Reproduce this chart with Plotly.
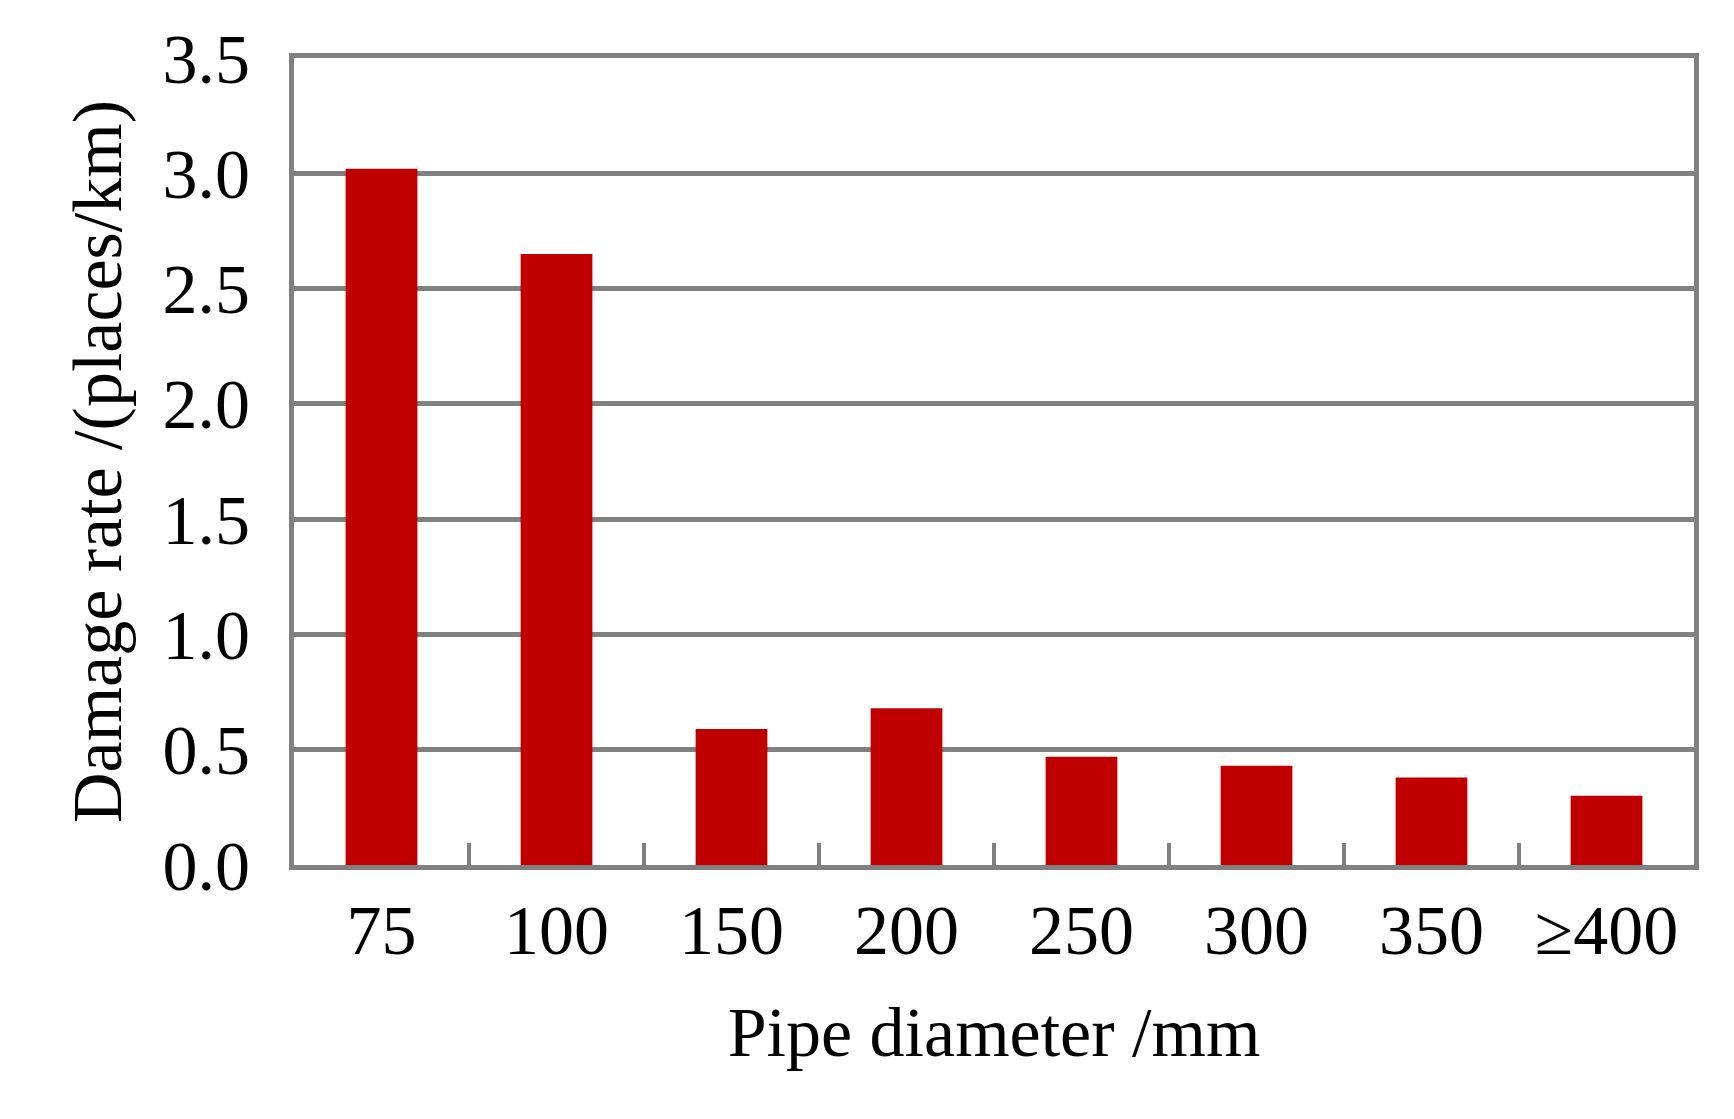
import plotly.graph_objects as go

categories = ["75", "100", "150", "200", "250", "300", "350", "≥400"]
values = [3.02, 2.65, 0.59, 0.68, 0.47, 0.43, 0.38, 0.30]

fig = go.Figure(go.Bar(x=categories, y=values, marker_color="#C00000", marker_line_width=0))
font = dict(family="Liberation Serif, Times New Roman, serif", color="black")
fig.update_layout(
    width=1734, height=1119,
    margin=dict(l=286, r=48, t=44, b=262),
    paper_bgcolor="white", plot_bgcolor="white",
    bargap=0.59, showlegend=False,
    font=font,
)
fig.update_xaxes(
    type="category", tickson="boundaries", ticks="inside", ticklen=22,
    tickwidth=4, tickcolor="#808080", showgrid=False,
    showline=True, linecolor="#808080", linewidth=5, mirror=True,
    tickfont=dict(size=70, **font),
    title=dict(text="Pipe diameter /mm", font=dict(size=70, **font), standoff=40),
)
fig.update_yaxes(
    range=[0, 3.5], dtick=0.5, tickformat=".1f",
    showgrid=True, gridcolor="#808080", gridwidth=5,
    showline=True, linecolor="#808080", linewidth=5, mirror=True,
    zeroline=False, ticks="", ticklabelstandoff=25,
    tickfont=dict(size=70, **font),
    title=dict(text="Damage rate /(places/km)", font=dict(size=70, **font), standoff=20),
)
fig.write_html("out.html")
